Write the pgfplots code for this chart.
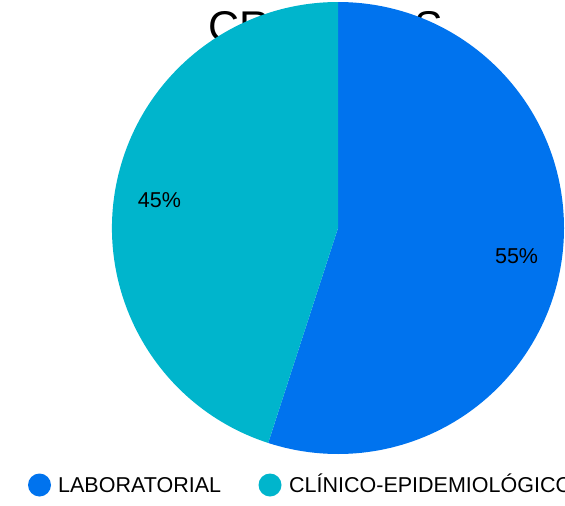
\documentclass[border=0pt]{standalone}
\usepackage{pgfplots}
\usepackage{pgfplotstable}
\pgfplotsset{compat=1.18}
\usetikzlibrary{calc}
\usepackage{fontspec}
\setmainfont{Liberation Sans}
\definecolor{labblue}{RGB}{0,115,238}
\definecolor{clinteal}{RGB}{0,181,204}
\pgfplotstableread[col sep=comma]{
label,value
LABORATORIAL,55
CLÍNICO-EPIDEMIOLÓGICO,45
}\piedata
\begin{document}
\begin{tikzpicture}
\pgfplotstablegetelem{0}{value}\of\piedata \let\va\pgfplotsretval
\pgfplotstablegetelem{1}{value}\of\piedata \let\vb\pgfplotsretval
\pgfmathsetmacro\fa{\va/(\va+\vb)}
\pgfmathsetmacro\fb{\vb/(\va+\vb)}
\pgfmathsetmacro\ea{90-360*\fa}
\pgfmathsetmacro\ma{90-180*\fa}
\pgfmathsetmacro\mb{\ea-180*\fb}
\clip (0,0) rectangle (565pt,506pt);
\begin{axis}[at={(0,0)},anchor=south west,
  width=565pt,height=506pt,scale only axis,
  xmin=0,xmax=565,ymin=0,ymax=506,y dir=reverse,
  hide axis,clip=false]
\node[anchor=base,font=\fontsize{43}{50}\selectfont] at (axis cs:326,41) {CRITÉRIOS};
\fill[labblue] (axis cs:338,228) -- ++(90:226pt) arc[start angle=90,end angle=\ea,radius=226pt] -- cycle;
\fill[clinteal] (axis cs:338,228) -- ++(\ea:226pt) arc[start angle=\ea,end angle=-270,radius=226pt] -- cycle;
\node[font=\fontsize{21.5}{25}\selectfont] at ($(axis cs:338,228)+(\ma:180.8pt)$) {\va\%};
\node[font=\fontsize{21.5}{25}\selectfont] at ($(axis cs:338,228)+(\mb:180.8pt)$) {\vb\%};
\fill[labblue] (axis cs:39.5,485) circle[radius=11.5pt];
\node[anchor=base west,font=\fontsize{21.5}{25}\selectfont,inner sep=0pt] at (axis cs:58,492) {LABORATORIAL};
\fill[clinteal] (axis cs:270,485) circle[radius=11.5pt];
\node[anchor=base west,font=\fontsize{21.5}{25}\selectfont,inner sep=0pt] at (axis cs:289,492) {CLÍNICO-EPIDEMIOLÓGICO};
\end{axis}
\end{tikzpicture}
\end{document}
